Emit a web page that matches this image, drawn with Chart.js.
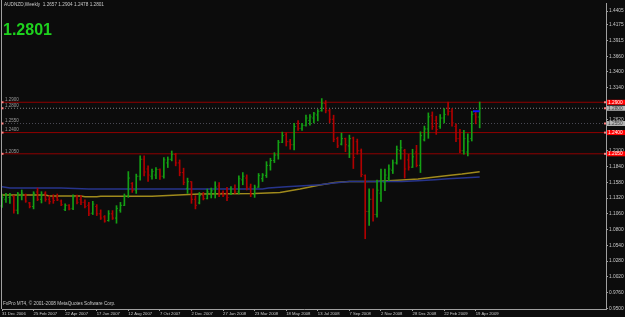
<!DOCTYPE html>
<html>
<head>
<meta charset="utf-8">
<script src="https://cdn.jsdelivr.net/npm/chart.js@4.4.0/dist/chart.umd.min.js"></script>
<style>
  html, body { margin: 0; padding: 0; background: #0c0c0c; }
  #wrap { width: 625px; height: 317px; }
</style>
</head>
<body>
<div id="wrap"><canvas id="grafico"></canvas></div>
<script>
// AUDNZD weekly bars, 31 Dec 2006 .. 26 Apr 2009
const chartTitle = "AUDNZD,Weekly  1.2657 1.2904 1.2478 1.2801";
const lastPrice = "1.2801";
const copyright = "FxPro MT4, \u00a9 2001-2008 MetaQuotes Software Corp.";

const dateLabels = ["31 Dec 2006", "25 Feb 2007", "22 Apr 2007", "17 Jun 2007", "12 Aug 2007", "7 Oct 2007",
  "2 Dec 2007", "27 Jan 2008", "23 Mar 2008", "18 May 2008", "13 Jul 2008", "7 Sep 2008",
  "2 Nov 2008", "28 Dec 2008", "22 Feb 2009", "19 Apr 2009"];
const dateBars = [0, 8, 16, 24, 32, 40, 48, 56, 64, 72, 80, 88, 96, 104, 112, 120];

const opens = [1.1190,1.1300,1.1330,1.1350,1.1120,1.1360,1.1370,1.1240,1.1180,1.1420,
  1.1300,1.1400,1.1300,1.1320,1.1330,1.1270,1.1130,1.1200,1.1150,1.1340,
  1.1300,1.1250,1.1200,1.1070,1.1180,1.1060,1.1010,1.0950,1.1060,1.0990,
  1.1120,1.1200,1.1350,1.1560,1.1450,1.1680,1.1960,1.1800,1.1680,1.1700,
  1.1790,1.1680,1.1900,1.1960,1.2040,1.1900,1.1740,1.1480,1.1590,1.1300,
  1.1240,1.1360,1.1310,1.1400,1.1400,1.1520,1.1410,1.1400,1.1390,1.1470,
  1.1420,1.1620,1.1650,1.1500,1.1380,1.1500,1.1640,1.1690,1.1860,1.1940,
  1.2030,1.2240,1.2370,1.2250,1.2200,1.2550,1.2470,1.2520,1.2600,1.2640,
  1.2690,1.2760,1.2880,1.2760,1.2620,1.2300,1.2210,1.2300,1.2180,1.2310,
  1.2250,1.2100,1.1690,1.1100,1.1300,1.1050,1.1400,1.1580,1.1650,1.1780,
  1.1900,1.2100,1.2100,1.1950,1.1830,1.2080,1.1860,1.2280,1.2460,1.2680,
  1.2600,1.2500,1.2640,1.2800,1.2750,1.2500,1.2300,1.2100,1.2080,1.2300,
  1.2710,1.2657];
const highs = [1.1387,1.1397,1.1397,1.1359,1.1413,1.1453,1.1387,1.1249,1.1425,1.1485,
  1.1425,1.1425,1.1359,1.1375,1.1387,1.1289,1.1223,1.1212,1.1375,1.1371,
  1.1359,1.1289,1.1249,1.1266,1.1212,1.1125,1.1031,1.1113,1.1113,1.1195,
  1.1249,1.1387,1.1757,1.1577,1.1715,1.2015,1.2015,1.1851,1.1797,1.1823,
  1.1802,1.1987,1.1998,1.2097,1.2059,1.1949,1.1813,1.1649,1.1593,1.1359,
  1.1413,1.1413,1.1469,1.1485,1.1589,1.1577,1.1441,1.1495,1.1511,1.1539,
  1.1687,1.1741,1.1703,1.1551,1.1534,1.1725,1.1725,1.1921,1.1977,1.2069,
  1.2272,1.2408,1.2397,1.2289,1.2551,1.2600,1.2551,1.2687,1.2698,1.2736,
  1.2780,1.2961,1.2928,1.2785,1.2687,1.2326,1.2392,1.2310,1.2359,1.2326,
  1.2293,1.2130,1.1703,1.1474,1.1474,1.1616,1.1797,1.1797,1.1867,1.1949,
  1.2179,1.2272,1.2125,1.2043,1.2125,1.2190,1.2413,1.2507,1.2725,1.2741,
  1.2670,1.2698,1.2797,1.2905,1.2797,1.2544,1.2452,1.2436,1.2380,1.2752,
  1.2741,1.2904];
const lows = [1.1167,1.1249,1.1233,1.1069,1.1059,1.1289,1.1249,1.1157,1.1141,1.1277,
  1.1239,1.1266,1.1223,1.1233,1.1277,1.1195,1.1113,1.1125,1.1130,1.1223,
  1.1212,1.1157,1.1031,1.1048,1.1031,1.0966,1.0921,1.0938,1.0966,1.0905,
  1.1085,1.1195,1.1331,1.1413,1.1397,1.1616,1.1687,1.1593,1.1633,1.1638,
  1.1629,1.1649,1.1823,1.1933,1.1851,1.1687,1.1539,1.1397,1.1233,1.1141,
  1.1223,1.1289,1.1305,1.1321,1.1321,1.1343,1.1343,1.1277,1.1375,1.1397,
  1.1387,1.1539,1.1453,1.1343,1.1331,1.1495,1.1593,1.1659,1.1780,1.1905,
  1.1961,1.2233,1.2179,1.2125,1.2113,1.2436,1.2436,1.2507,1.2523,1.2561,
  1.2593,1.2752,1.2725,1.2561,1.2249,1.2151,1.2195,1.2085,1.1987,1.1807,
  1.2043,1.1671,1.0649,1.0867,1.0938,1.1003,1.1266,1.1441,1.1605,1.1725,
  1.1879,1.1961,1.1649,1.1780,1.1823,1.1834,1.1741,1.2261,1.2305,1.2452,
  1.2370,1.2469,1.2561,1.2687,1.2507,1.2249,1.2069,1.2043,1.2015,1.2261,
  1.2544,1.2478];
const closes = [1.1330,1.1370,1.1380,1.1120,1.1390,1.1400,1.1270,1.1180,1.1400,1.1300,
  1.1380,1.1300,1.1260,1.1280,1.1290,1.1210,1.1200,1.1140,1.1340,1.1250,
  1.1250,1.1180,1.1060,1.1220,1.1060,1.0990,1.0940,1.1060,1.0990,1.1150,
  1.1200,1.1350,1.1650,1.1450,1.1680,1.1960,1.1750,1.1700,1.1760,1.1790,
  1.1680,1.1950,1.1960,1.2040,1.1900,1.1740,1.1580,1.1590,1.1300,1.1200,
  1.1360,1.1310,1.1420,1.1440,1.1500,1.1400,1.1370,1.1330,1.1470,1.1420,
  1.1640,1.1680,1.1500,1.1380,1.1500,1.1690,1.1700,1.1860,1.1940,1.2030,
  1.2240,1.2350,1.2250,1.2200,1.2500,1.2470,1.2520,1.2640,1.2660,1.2710,
  1.2750,1.2880,1.2760,1.2620,1.2290,1.2180,1.2300,1.2200,1.2300,1.1990,
  1.2100,1.1710,1.1100,1.1300,1.1050,1.1450,1.1600,1.1700,1.1800,1.1900,
  1.2120,1.2150,1.1800,1.1830,1.2000,1.1860,1.2350,1.2460,1.2660,1.2500,
  1.2450,1.2640,1.2700,1.2750,1.2560,1.2300,1.2100,1.2300,1.2250,1.2700,
  1.2657,1.2801];

// moving averages read at bar positions [bar, value]
const maBlue = [[0,1.1507],[2,1.1485],[15,1.1485],[22,1.1469],[66,1.1469],[67.5,1.1485],[72,1.1507],
  [77.5,1.1528],[80.5,1.1539],[84,1.1567],[88,1.1593],[101.3,1.1593],[105.4,1.1605],[109.7,1.1621],
  [113,1.1638],[116.5,1.1649],[121,1.1668]];
const maGold = [[0,1.1371],[11,1.1371],[12,1.1354],[20,1.1354],[21,1.1343],[24,1.1343],[25,1.1348],
  [38,1.1348],[50,1.1387],[64,1.1397],[70.4,1.1413],[75.5,1.1469],[80.5,1.1534],[84.3,1.1577],
  [88,1.1593],[94.5,1.1593],[101.3,1.1616],[105.4,1.1633],[109.7,1.1666],[113,1.1692],
  [116.5,1.1715],[121,1.1752]];
const blueMark = [[119.3,1.2752],[121,1.2752]];

const priceTicks = [0.95, 0.976, 1.002, 1.028, 1.054, 1.08, 1.106, 1.132, 1.158, 1.184, 1.21,
  1.262, 1.314, 1.34, 1.366, 1.3915, 1.4175, 1.4405];
const redLevels = [1.29, 1.24, 1.205];
const greyLevels = [1.2801, 1.255];
const levelNames = ["1.2900", "1.2800", "1.2550", "1.2400", "1.2050"];
const levelValues = [1.29, 1.2801, 1.255, 1.24, 1.205];

const lastBar = 153;
const axisColor = '#a0a0a0';
const textColor = '#c8c8c8';
const fontFam = '"Liberation Sans", Arial, sans-serif';

function levelLine(v, color, dash, width) {
  return {
    type: 'line', data: [{x: 0, y: v}, {x: lastBar, y: v}],
    borderColor: color, borderWidth: width, borderDash: dash, pointRadius: 0, order: 5
  };
}

const ohlcTicks = {
  id: 'ohlcTicks',
  beforeDraw(chart) {
    const c = chart.ctx;
    c.save();
    c.fillStyle = '#0c0c0c';
    c.fillRect(0, 0, chart.width, chart.height);
    c.restore();
  },
  afterDatasetsDraw(chart) {
    const c = chart.ctx, xs = chart.scales.x, ys = chart.scales.y;
    c.save();
    for (let i = 0; i < opens.length; i++) {
      const px = xs.getPixelForValue(i);
      c.fillStyle = closes[i] >= opens[i] ? '#14a014' : '#b00000';
      c.fillRect(px - 1.5, ys.getPixelForValue(opens[i]) - 0.5, 1, 1);
      c.fillRect(px + 0.5, ys.getPixelForValue(closes[i]) - 0.5, 1, 1);
    }
    c.restore();
  },
  afterDraw(chart) {
    const c = chart.ctx, ys = chart.scales.y, area = chart.chartArea;
    c.save();
    // left frame
    c.strokeStyle = axisColor;
    c.lineWidth = 1;
    c.beginPath();
    c.moveTo(1.5, 0);
    c.lineTo(1.5, area.bottom);
    c.stroke();

    c.textBaseline = 'middle';
    c.textAlign = 'left';
    c.fillStyle = textColor;
    c.font = '4.7px ' + fontFam;
    c.fillText(chartTitle, 4, 5);
    c.fillText(copyright, 3, 304);

    c.fillStyle = '#1ed21e';
    c.font = 'bold 16px ' + fontFam;
    c.fillText(lastPrice, 3, 31);

    // level labels left and price boxes right
    levelValues.forEach((v, k) => {
      const py = ys.getPixelForValue(v);
      const red = redLevels.includes(v);
      c.font = '4.5px ' + fontFam;
      c.fillStyle = '#9a9a9a';
      c.textAlign = 'left';
      c.fillText(levelNames[k], 5, py - 2.5);
      c.fillStyle = '#ff8080';
      c.fillRect(1.5, py - 1, 2, 2);
      c.fillRect(604, py - 1, 2, 2);
      c.fillStyle = red ? '#ff0000' : '#b4b4b4';
      c.fillRect(607, py - 2.5, 18, 5);
      c.fillStyle = red ? '#ffffff' : '#404040';
      c.font = '4.8px ' + fontFam;
      c.fillText(levelNames[k], 608, py + 0.2);
    });
    c.restore();
  }
};

new Chart(document.getElementById('grafico'), {
  type: 'bar',
  data: {
    datasets: [
      {
        type: 'bar',
        data: highs.map((h, i) => ({x: i, y: [lows[i], h]})),
        backgroundColor: closes.map((cl, i) => cl >= opens[i] ? '#14a014' : '#b00000'),
        barThickness: 1,
        grouped: false,
        order: 1
      },
      {
        type: 'line', data: maBlue.map(p => ({x: p[0], y: p[1]})),
        borderColor: '#27348c', borderWidth: 1.5, pointRadius: 0, order: 2
      },
      {
        type: 'line', data: maGold.map(p => ({x: p[0], y: p[1]})),
        borderColor: '#a08a1c', borderWidth: 1.5, pointRadius: 0, order: 2
      },
      {
        type: 'line', data: blueMark.map(p => ({x: p[0], y: p[1]})),
        borderColor: '#1010ff', borderWidth: 2, pointRadius: 0, order: 0
      },
      ...redLevels.map(v => levelLine(v, '#900000', [], 1)),
      levelLine(greyLevels[0], '#808080', [1, 2], 1),
      levelLine(greyLevels[1], '#4a4a55', [1, 2], 1)
    ]
  },
  options: {
    responsive: true,
    maintainAspectRatio: false,
    animation: false,
    layout: { padding: { left: 2, top: 2, right: 0, bottom: 0 } },
    plugins: {
      legend: { display: false },
      tooltip: { enabled: false }
    },
    scales: {
      x: {
        type: 'linear', min: 0, max: lastBar, offset: false,
        afterBuildTicks: s => { s.ticks = dateBars.map(v => ({value: v})); },
        afterFit: s => { s.height = 8; },
        ticks: {
          autoSkip: false, maxRotation: 0, align: 'start', padding: 0,
          color: textColor, font: { size: 4.2, family: fontFam },
          callback: v => dateLabels[dateBars.indexOf(v)]
        },
        grid: { drawOnChartArea: false, offset: false, tickLength: 2, color: axisColor },
        border: { color: axisColor }
      },
      y: {
        position: 'right', min: 0.949, max: 1.4523,
        afterBuildTicks: s => { s.ticks = priceTicks.map(v => ({value: v})); },
        afterFit: s => { s.width = 19; },
        ticks: {
          autoSkip: false, padding: 1,
          color: textColor, font: { size: 4.8, family: fontFam },
          callback: v => v.toFixed(4)
        },
        grid: { drawOnChartArea: false, tickLength: 2, color: axisColor },
        border: { color: axisColor }
      }
    }
  },
  plugins: [ohlcTicks]
});
</script>
</body>
</html>
